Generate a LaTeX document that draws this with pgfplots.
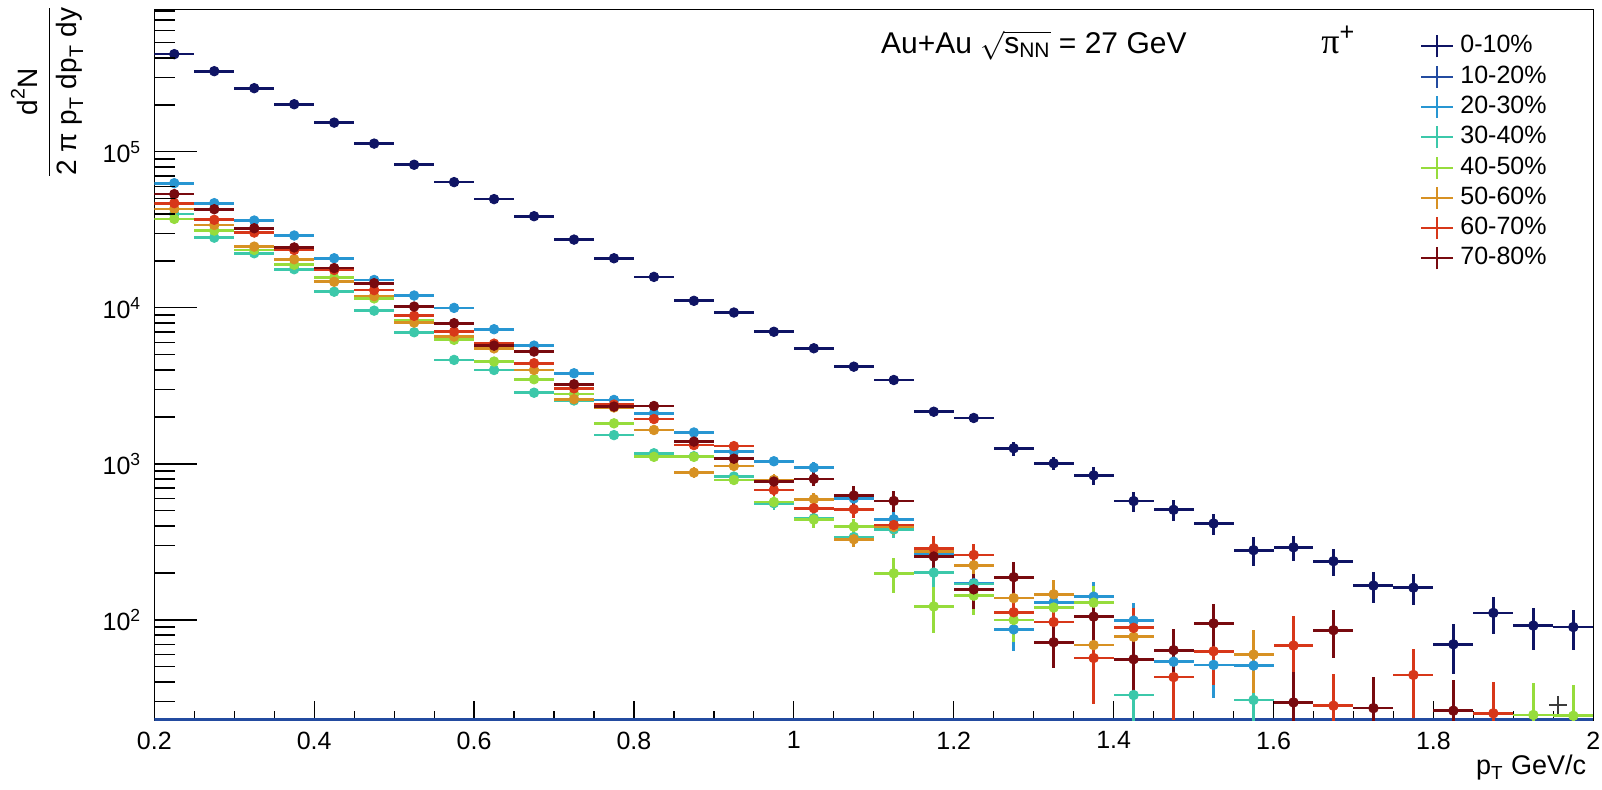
\documentclass[border=0pt]{standalone}
\usepackage{fontspec}
\setmainfont{Liberation Sans}
\newfontfamily\seriffont{Liberation Serif}
\usepackage{amsmath}
\usepackage{pgfplots}
\usepackage{pgfplotstable}
\pgfplotsset{compat=1.18}

\definecolor{cA}{RGB}{15,20,100}
\definecolor{cB}{RGB}{35,75,160}
\definecolor{cC}{RGB}{40,150,210}
\definecolor{cD}{RGB}{60,200,170}
\definecolor{cE}{RGB}{150,220,60}
\definecolor{cF}{RGB}{215,145,35}
\definecolor{cG}{RGB}{215,55,25}
\definecolor{cH}{RGB}{120,10,15}
\definecolor{cK}{RGB}{60,60,60}

\pgfplotstableread{
x y ey
0.225 423000 0
0.275 329000 0
0.325 256000 0
0.375 202000 0
0.425 154000 0
0.475 113000 0
0.525 82700 0
0.575 64000 0
0.625 49800 0
0.675 38700 0
0.725 27400 0
0.775 20800 0
0.825 15800 0
0.875 11100 0
0.925 9340 0
0.975 7030 0
1.025 5510 0
1.075 4200 150
1.125 3450 150
1.175 2160 120
1.225 1970 110
1.275 1260 130
1.325 1010 100
1.375 844 110
1.425 578 87
1.475 508 76
1.525 415 66
1.575 280 59
1.625 292 55
1.675 238 48
1.725 166 38
1.775 161 37
1.825 69.8 25
1.875 111 30
1.925 92 28
1.975 90 26
}\tA

\pgfplotstableread{
x y ey
0.225 63000 0
0.275 46900 0
0.325 36300 0
0.375 29100 0
0.425 20800 0
0.475 15100 0
0.525 12000 0
0.575 10000 0
0.625 7300 0
0.675 5730 0
0.725 3810 0
0.775 2570 0
0.825 2110 0
0.875 1590 60
0.925 1200 60
0.975 1040 70
1.025 947 80
1.075 600 70
1.125 442 60
1.175 265 50
1.225 172 35
1.275 87 24
1.325 130 30
1.375 141 35
1.425 99 30
1.475 54 18
1.525 51.5 20
1.575 51 18
}\tC

\pgfplotstableread{
x y ey
0.225 40000 0
0.275 28200 0
0.325 22400 0
0.375 17700 0
0.425 12700 0
0.475 9600 0
0.525 6980 0
0.575 4640 0
0.625 4000 0
0.675 2860 0
0.725 2550 0
0.775 1530 0
0.825 1170 0
0.875 1120 50
0.925 830 50
0.975 560 50
1.025 449 45
1.075 340 40
1.125 380 45
1.175 201 40
1.225 170 35
1.425 33 11
1.575 30.7 10
}\tD

\pgfplotstableread{
x y ey
0.225 37200 0
0.275 31300 0
0.325 23500 0
0.375 18900 0
0.425 15600 0
0.475 11500 0
0.525 8300 0
0.575 6240 0
0.625 4530 0
0.675 3490 0
0.725 2800 0
0.775 1820 0
0.825 1110 0
0.875 1110 60
0.925 789 60
0.975 570 50
1.025 440 50
1.075 396 45
1.125 199 50
1.175 122 40
1.225 143 35
1.275 100 28
1.325 120 30
1.375 129 35
1.925 24.6 15
1.975 24.3 14
}\tE

\pgfplotstableread{
x y ey
0.225 43100 0
0.275 34000 0
0.325 24700 0
0.375 20500 0
0.425 14700 0
0.475 11900 0
0.525 8050 0
0.575 6550 0
0.625 5500 0
0.675 4000 0
0.725 2600 0
0.775 2300 0
0.825 1650 0
0.875 880 70
0.925 970 70
0.975 790 70
1.025 594 60
1.075 329 35
1.125 395 45
1.175 274 45
1.225 224 40
1.275 138 30
1.325 146 35
1.375 69 25
1.425 78 25
1.575 60 26
}\tF

\pgfplotstableread{
x y ey
0.225 46900 0
0.275 36700 0
0.325 30400 0
0.375 23500 0
0.425 17500 0
0.475 13000 0
0.525 8900 0
0.575 7050 0
0.625 5900 0
0.675 4420 0
0.725 3050 0
0.775 2400 0
0.825 1940 0
0.875 1320 60
0.925 1300 70
0.975 681 60
1.025 520 60
1.075 512 60
1.125 406 50
1.175 288 55
1.225 261 45
1.275 112 30
1.325 97 30
1.375 57 28
1.425 89 30
1.475 43 20
1.525 63 25
1.625 68.5 38
1.675 28.2 17
1.775 44.4 21
1.875 25.2 15
}\tG

\pgfplotstableread{
x y ey
0.225 53600 0
0.275 42900 0
0.325 32400 0
0.375 24400 0
0.425 18000 0
0.475 14400 0
0.525 10200 0
0.575 7980 0
0.625 5730 0
0.675 5250 0
0.725 3240 0
0.775 2330 0
0.825 2350 0
0.875 1390 60
0.925 1080 70
0.975 771 70
1.025 802 80
1.075 627 100
1.125 579 90
1.175 255 50
1.225 157 40
1.275 188 48
1.325 72 23
1.375 105 35
1.425 56 25
1.475 64 24
1.525 95 31
1.625 29.6 17
1.675 86 29
1.725 27.2 16
1.825 26.2 15
}\tH

\pgfplotstableread{
x y
1.956 28.5
}\tK

\pgfplotsset{
  rootpt/.style={color=#1, only marks, mark=*, mark size=2.4pt,
    mark options={solid, fill=#1, draw=#1},
    error bars/x dir=both, error bars/x fixed=0.025,
    error bars/y dir=both, error bars/y explicit,
    error bars/error mark=none,
    error bars/error bar style={line width=1.35pt, color=#1}},
}

\begin{document}
\begin{tikzpicture}
\useasboundingbox (-77.15pt,-34.15pt) rectangle (723.85pt,360.35pt);
\begin{axis}[
  name=ax,
  at={(0pt,0pt)}, anchor=south west,
  scale only axis, width=719.5pt, height=355.7pt,
  xmin=0.2, xmax=2, ymode=log, ymin=22.6, ymax=820000,
  axis line style={line width=0.6pt},
  tick align=inside, xtick pos=lower, ytick pos=left,
  xtick={0.2,0.4,0.6,0.8,1,1.2,1.4,1.6,1.8,2},
  xticklabels={0.2,0.4,0.6,0.8,1,1.2,1.4,1.6,1.8,2},
  minor x tick num=3,
  ytick={100,1000,10000,100000},
  yticklabels={10\textsuperscript{2},10\textsuperscript{3},10\textsuperscript{4},10\textsuperscript{5}},
  y tick style={draw=none},
  major tick length=10pt, minor tick length=5pt,
  tick style={black, line width=0.6pt},
  ticklabel style={font=\fontsize{12.5}{14}\selectfont},
  xticklabel style={yshift=-2pt},
  yticklabel style={xshift=-3pt},
  legend cell align=left,
  legend image code/.code={\draw[#1, line width=1pt] (-8pt,0pt) -- (8pt,0pt) (0pt,-5.5pt) -- (0pt,5.5pt);},
  legend style={draw=none, fill=none, at={(axis description cs:0.8796,0.9653)}, anchor=north west,
    font=\fontsize{12.5}{14}\selectfont, row sep=3.15pt, column sep=3pt, inner sep=0pt,
    nodes={inner sep=0pt, text height=9pt, text depth=2.5pt}},
]
\addplot[rootpt=cA] table[x=x, y=y, y error=ey] {\tA};
\addlegendentry{0-10\%}
\addplot[color=cB, line width=2.4pt] coordinates {(0.2,22.6) (2,22.6)};
\addlegendentry{10-20\%}
\addplot[rootpt=cC] table[x=x, y=y, y error=ey] {\tC};
\addlegendentry{20-30\%}
\addplot[rootpt=cD] table[x=x, y=y, y error=ey] {\tD};
\addlegendentry{30-40\%}
\addplot[rootpt=cE] table[x=x, y=y, y error=ey] {\tE};
\addlegendentry{40-50\%}
\addplot[rootpt=cF] table[x=x, y=y, y error=ey] {\tF};
\addlegendentry{50-60\%}
\addplot[rootpt=cG] table[x=x, y=y, y error=ey] {\tG};
\addlegendentry{60-70\%}
\addplot[rootpt=cH] table[x=x, y=y, y error=ey] {\tH};
\addlegendentry{70-80\%}
\addplot[forget plot, only marks, mark=+, mark size=4.5pt, mark options={draw=cK, line width=1.2pt}] table[x=x, y=y] {\tK};
\end{axis}
\begin{axis}[
  at={(0pt,0pt)}, anchor=south west,
  scale only axis, width=719.5pt, height=355.7pt,
  xmin=0.2, xmax=2, ymode=log, ymin=22.6, ymax=820000,
  axis line style={draw=none},
  tick align=inside, ytick pos=left, xtick=\empty,
  ytick={100,1000,10000,100000}, yticklabels={},
  minor ytick={30,40,50,60,70,80,90,200,300,400,500,600,700,800,900,2000,3000,4000,5000,6000,7000,8000,9000,20000,30000,40000,50000,60000,70000,80000,90000,200000,300000,400000,500000,600000,700000,800000},
  major tick length=21.5pt, minor tick length=10.3pt,
  tick style={black, line width=0.6pt},
]
\addplot[draw=none, forget plot] coordinates {(0.5,1000)};
\end{axis}
\node[anchor=base west, xshift=359.85pt, yshift=-22pt, font=\fontsize{15}{17}\selectfont] at (ax.north west)
  {Au+Au $\sqrt{\text{s}_{\text{NN}}}$ = 27 GeV};
\node[anchor=base west, xshift=580pt, yshift=-22pt, font=\fontsize{18}{20}\selectfont] at (ax.north west)
  {{\seriffont π}\textsuperscript{+}};
\node[anchor=base east, yshift=-27pt, font=\fontsize{13.5}{15}\selectfont] at (ax.south east)
  {p$_{\text{T}}$ GeV/c};
\node[xshift=-53.65pt, yshift=-41.2pt, rotate=90, anchor=center, font=\fontsize{14}{16}\selectfont] at (ax.north west)
  {$\dfrac{\text{d}^{\text{2}}\text{N}}{\text{2 π p}_{\text{T}}\text{ dp}_{\text{T}}\text{ dy}}$};
\end{tikzpicture}
\end{document}
